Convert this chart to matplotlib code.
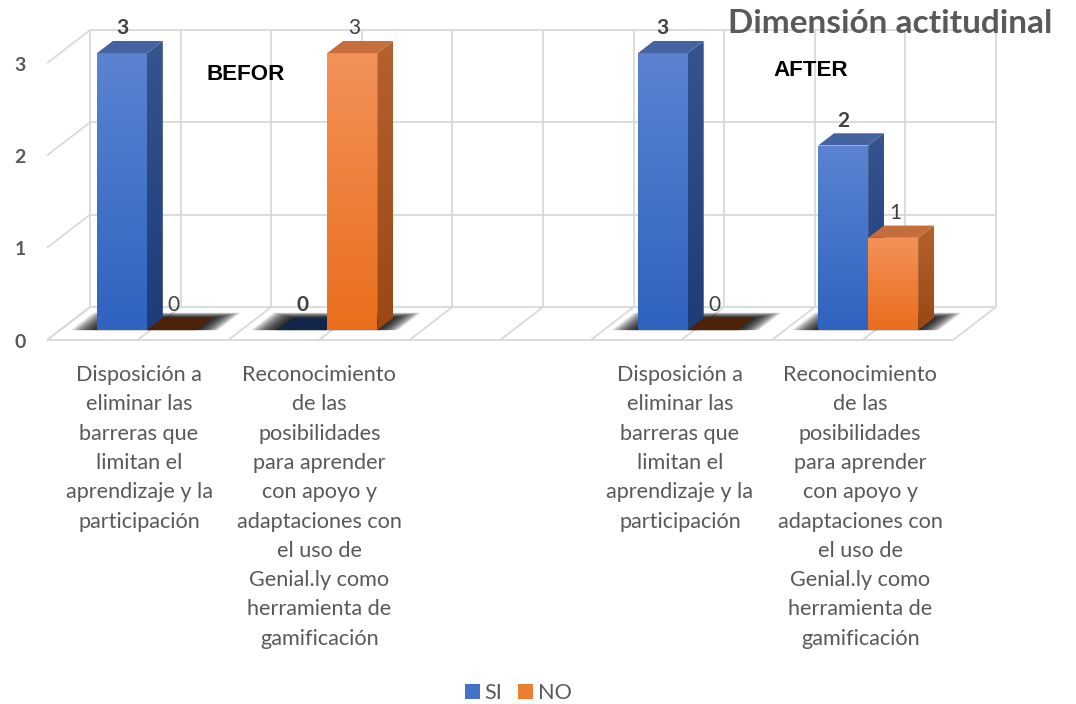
import numpy as np
import matplotlib
matplotlib.use("Agg")
import matplotlib.pyplot as plt
from matplotlib.patches import Polygon, Patch
from matplotlib.colors import LinearSegmentedColormap

# ---------------- data ----------------
label_a = ["Disposición a", "eliminar las", "barreras que", "limitan el",
           "aprendizaje y la", "participación"]
label_b = ["Reconocimiento", "de las", "posibilidades", "para aprender",
           "con apoyo y", "adaptaciones con", "el uso de", "Genial.ly como",
           "herramienta de", "gamificación"]
categories = [label_a, label_b, [], label_a, label_b]
series_names = ["SI", "NO"]
si_values = [3, 0, np.nan, 3, 2]
no_values = [0, 3, np.nan, 0, 1]
y_ticks = [0, 1, 2, 3]
title = "Dimensión actitudinal"
phase_labels = ["BEFOR", "AFTER"]

# ---------------- layout / style ----------------
W_PX, H_PX = 1076, 704
X0_PX, SX = 139.0, 180.3      # pixel of category 0 (front edge), px per category
Y0_PX, SY = 340.0, 92.3       # pixel of value 0 (front edge), px per unit
DEPTH_X, DEPTH_Y = 43.0 / SX, 33.0 / SY
FL, FR = -0.51, 4.515         # floor extent in category units
D0, D1 = 0.30, 0.67           # bar depth range
BW = 50.0 / SX                # bar width
CL_SHIFT = -5.0 / SX
GRID = "#D9D9D9"
TXT = "#595959"
LBL = "#404040"
PT = 0.72                     # points per pixel at 100 dpi

STYLE = {
    "SI": dict(front=("#5B83D1", "#2F63C0"), side=("#36558F", "#1E3C78"),
               top="#45639F", zero_top="#13264A", legend="#4472C4"),
    "NO": dict(front=("#F39159", "#E96E1C"), side=("#B5622F", "#9A4713"),
               top="#C46D3D", zero_top="#4D2209", legend="#ED7D31"),
}

fig = plt.figure(figsize=(W_PX / 100, H_PX / 100), dpi=100)
ax = fig.add_axes([0, 0, 1, 1])
ax.set_autoscale_on(False)
ax.set_xlim((0 - X0_PX) / SX, (W_PX - X0_PX) / SX)
ax.set_ylim((Y0_PX - H_PX) / SY, Y0_PX / SY)
ax.axis("off")
renderer = fig.canvas.get_renderer()


def P(x, v, d):
    return (x + d * DEPTH_X, v + d * DEPTH_Y)


def line(p, q, **kw):
    ax.plot([p[0], q[0]], [p[1], q[1]], color=GRID, lw=1.3, zorder=1,
            solid_capstyle="butt", **kw)


def fitted_size(text, target_px, **kw):
    t = fig.text(0, 0, text, fontsize=20, **kw)
    w = t.get_window_extent(renderer).width
    t.remove()
    return 20 * target_px / w


# ---------------- walls & grid ----------------
vmax = max(y_ticks)
for t in y_ticks:
    line(P(FL, t, 1), P(FR, t, 1))
    line(P(FL, t, 0), P(FL, t, 1))
ndiv = 2 * len(categories)
for k in range(ndiv + 1):
    x = FL + k * (FR - FL) / ndiv
    line(P(x, 0, 0), P(x, 0, 1))
    line(P(x, 0, 1), P(x, vmax, 1))
line(P(FL, 0, 0), P(FR, 0, 0))

for t in y_ticks:
    ax.annotate(str(t), xy=P(FL, t, 0), xytext=(-27 * PT, -2 * PT), textcoords="offset points",
                ha="center", va="center", fontsize=14, fontweight="bold",
                color=TXT, family="Lato", zorder=10)


# ---------------- bars ----------------
def grad_fill(poly_pts, c_top, c_bot, z):
    xs = [p[0] for p in poly_pts]
    ys = [p[1] for p in poly_pts]
    cmap = LinearSegmentedColormap.from_list("g", [c_top, c_bot])
    g = np.linspace(0, 1, 128).reshape(-1, 1)
    im = ax.imshow(g, cmap=cmap, extent=[min(xs), max(xs), min(ys), max(ys)],
                   origin="upper", aspect="auto", interpolation="bilinear", zorder=z)
    poly = Polygon(poly_pts, closed=True, transform=ax.transData)
    im.set_clip_path(poly)


def shadow(xl, xr, z):
    n = 14
    for k in range(n, 0, -1):
        ex = (26.0 / SX) * k / n
        ed = 0.16 * k / n
        pts = [P(xl - ex, 0, D0), P(xr + ex * 0.8, 0, D0),
               P(xr + ex * 0.8, 0, D1 + ed), P(xl - ex, 0, D1 + ed)]
        ax.add_patch(Polygon(pts, closed=True, facecolor="black",
                             edgecolor="none", alpha=0.11, zorder=z))


def bar(xl, v, st, z):
    xr = xl + BW
    if v > 0:
        front = [P(xl, 0, D0), P(xr, 0, D0), P(xr, v, D0), P(xl, v, D0)]
        grad_fill(front, st["front"][0], st["front"][1], z)
        side = [P(xr, 0, D0), P(xr, 0, D1), P(xr, v, D1), P(xr, v, D0)]
        grad_fill(side, st["side"][0], st["side"][1], z)
        topc = st["top"]
    else:
        topc = st["zero_top"]
    top = [P(xl, v, D0), P(xr, v, D0), P(xr, v, D1), P(xl, v, D1)]
    ax.add_patch(Polygon(top, closed=True, facecolor=topc, edgecolor="none", zorder=z))


label_fs = 15
for i in range(len(categories)):
    if np.isnan(si_values[i]):
        continue
    c = i + CL_SHIFT
    shadow(c - BW, c + BW, 2)
for i in range(len(categories)):
    vals = [si_values[i], no_values[i]]
    if np.isnan(vals[0]):
        continue
    c = i + CL_SHIFT
    lefts = [c - BW, c]
    for s, (name, v) in enumerate(zip(series_names, vals)):
        bar(lefts[s], v, STYLE[name], 3 + s)
        xc = P(lefts[s] + BW / 2, v, D0)[0]
        yt = P(lefts[s] + BW / 2, v, D1)[1]
        ax.annotate(f"{v:g}", xy=(xc, yt), xytext=(2 * PT * s, 12.5 * PT),
                    textcoords="offset points",
                    ha="center", va="center", fontsize=label_fs,
                    fontweight="bold" if s == 0 else "normal",
                    color=LBL, family="Lato", zorder=10)

# ---------------- category labels ----------------
cat_fs = fitted_size("adaptaciones con", 165, family="Lato")
base0 = (Y0_PX - 381.0) / SY
pitch = 29.3 / SY
for i, lines in enumerate(categories):
    for k, s in enumerate(lines):
        ax.text(i, base0 - k * pitch, s, ha="center", va="baseline",
                fontsize=cat_fs, color=TXT, family="Lato", zorder=10)

# ---------------- title & annotations ----------------
title_fs = fitted_size(title, 324, family="Lato", fontweight="bold")
fig.text(1052 / W_PX, 1 - 33 / H_PX, title, ha="right", va="baseline",
         fontsize=title_fs, fontweight="bold", color=TXT, family="Lato")
ph_fs = fitted_size(phase_labels[0], 78, family="Liberation Sans", fontweight="bold")
for s, (px, py) in zip(phase_labels, [(246, 75), (811, 70)]):
    fig.text(px / W_PX, 1 - py / H_PX, s, ha="center", va="center",
             fontsize=ph_fs, fontweight="bold", color="black", family="Liberation Sans")

# ---------------- legend ----------------
fs_px = cat_fs * 100 / 72
handles = [Patch(facecolor=STYLE[n]["legend"], edgecolor="none") for n in series_names]
leg = ax.legend(handles, series_names, loc="center", ncol=2,
                bbox_to_anchor=(518 / W_PX, 1 - 693 / H_PX), bbox_transform=fig.transFigure,
                frameon=False, handlelength=15 / fs_px, handleheight=15 / fs_px,
                handletextpad=5 / fs_px, columnspacing=15 / fs_px, borderpad=0,
                prop={"family": "Lato", "size": cat_fs}, labelcolor=TXT)

fig.savefig("out.png", dpi=100, facecolor="white")
